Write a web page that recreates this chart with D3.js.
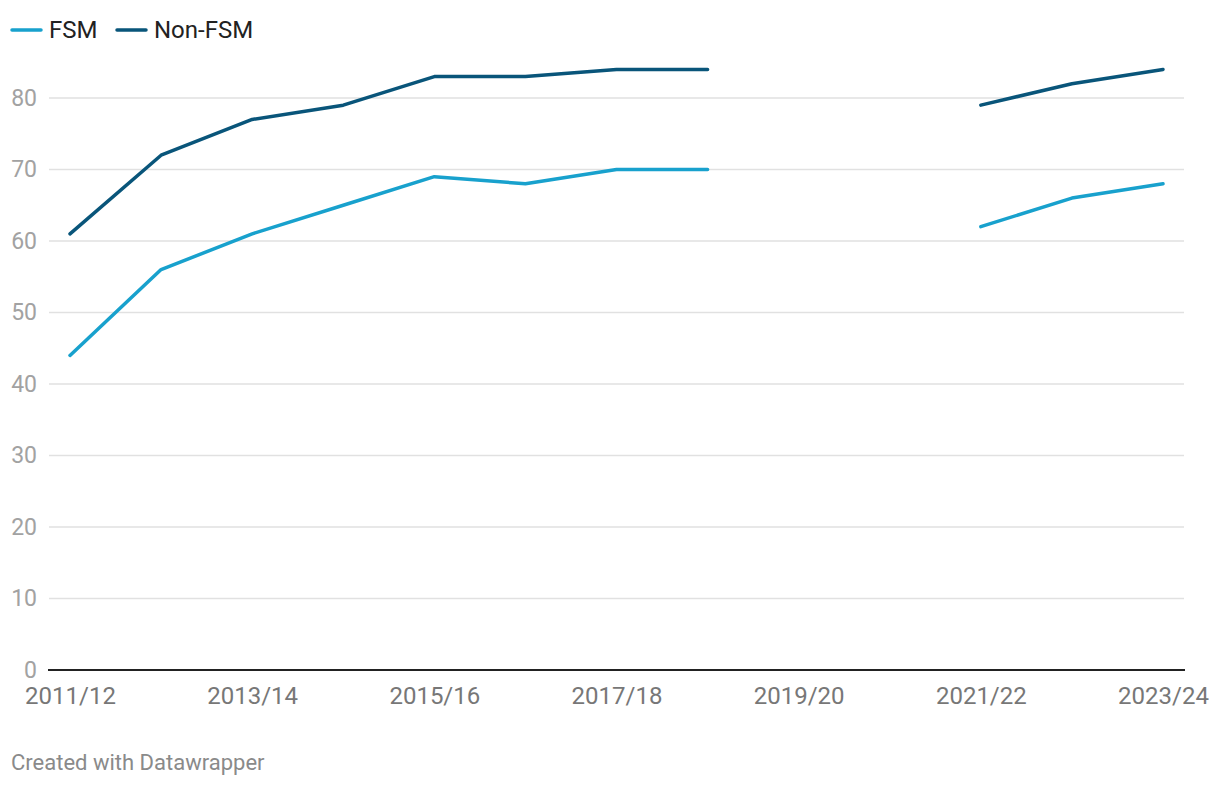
<!DOCTYPE html>
<html><head><meta charset="utf-8">
<script src="https://cdn.jsdelivr.net/npm/d3@7"></script>
<style>body{margin:0;background:#fff;font-family:Roboto,sans-serif}</style>
</head><body>
<svg id="c" width="1220" height="786"></svg>
<script>
const years = ["2011/12","2012/13","2013/14","2014/15","2015/16","2016/17","2017/18","2018/19","2019/20","2020/21","2021/22","2022/23","2023/24"];
const fsm = [44,56,61,65,69,68,70,70,null,null,62,66,68];
const nonFsm = [61,72,77,79,83,83,84,84,null,null,79,82,84];
const xTickLabels = ["2011/12","2013/14","2015/16","2017/18","2019/20","2021/22","2023/24"];
const yTicks = [0,10,20,30,40,50,60,70,80];
const seriesNames = ["FSM","Non-FSM"];
const colors = ["#18a1cd","#09557a"];

const svg = d3.select("#c");
const x = d3.scalePoint().domain(years).range([70,1163]);
const y = d3.scaleLinear().domain([0,80]).range([670,98]);

const grid = svg.append("g");
yTicks.filter(t=>t>0).forEach(t=>{
  grid.append("line").attr("x1",49).attr("x2",1184).attr("y1",y(t)).attr("y2",y(t))
    .attr("stroke","#e1e1e1").attr("stroke-width",1.3);
});
const yAx = d3.axisLeft(y).tickValues(yTicks).tickSize(0).tickPadding(0);
svg.append("g").attr("transform","translate(37,0)").call(yAx)
  .call(g=>g.select(".domain").remove())
  .call(g=>g.selectAll("text").attr("font-family","Roboto").attr("font-size",23).attr("fill","#a2a2a2").attr("dy","0.32em"));

svg.append("line").attr("x1",48).attr("x2",1185).attr("y1",y(0)).attr("y2",y(0)).attr("stroke","#222").attr("stroke-width",2);

const xAx = d3.axisBottom(x).tickValues(xTickLabels).tickSize(0).tickPadding(0);
svg.append("g").attr("transform","translate(0,687)").call(xAx)
  .call(g=>g.select(".domain").remove())
  .call(g=>g.selectAll("text").attr("font-family","Roboto").attr("font-size",24).attr("fill","#777").attr("dy","0.71em"));

const line = d3.line().defined(d=>d[1]!=null).x(d=>x(d[0])).y(d=>y(d[1]));
[fsm,nonFsm].forEach((s,i)=>{
  svg.append("path").datum(years.map((yr,j)=>[yr,s[j]])).attr("d",line)
    .attr("fill","none").attr("stroke",colors[i]).attr("stroke-width",3.5).attr("stroke-linejoin","round").attr("stroke-linecap","round");
});

const leg = svg.append("g");
const legX = [12,117];
seriesNames.forEach((n,i)=>{
  leg.append("line").attr("x1",legX[i]).attr("x2",legX[i]+29).attr("y1",30).attr("y2",30)
    .attr("stroke",colors[i]).attr("stroke-width",3.5).attr("stroke-linecap","round");
  leg.append("text").attr("x",legX[i]+37).attr("y",30).attr("dy","0.35em")
    .attr("font-family","Roboto").attr("font-size",24).attr("fill","#222").text(n);
});

svg.append("text").attr("x",11).attr("y",770).attr("font-family","Roboto").attr("font-size",22).attr("fill","#8a8a8a").text("Created with Datawrapper");
</script>
</body></html>
